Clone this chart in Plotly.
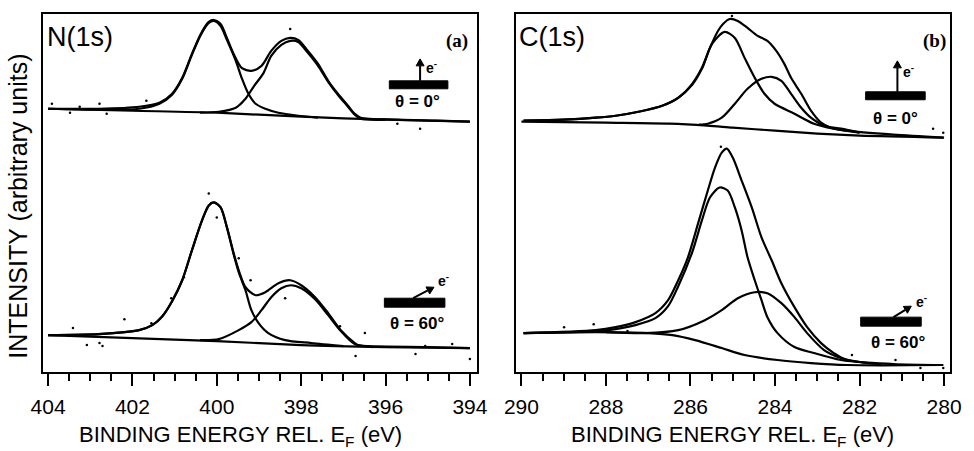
import math
import plotly.graph_objects as go

# ---------------- data (binding energy in eV, intensity in arbitrary units) ----------------
# Panel (a) N(1s), theta = 0 deg
a0_env_E = [404.0, 402.8, 401.84, 401.36, 401.06, 400.82, 400.59, 400.38, 400.19, 400.07, 399.91, 399.76,
            399.60, 399.41, 399.18, 398.94, 398.71, 398.47, 398.26, 398.07, 397.84, 397.60, 397.36, 397.13,
            396.89, 396.73, 396.59, 395.72, 394.78, 394.0]
a0_env_I = [264, 264, 266, 270, 279, 295, 319, 339, 351, 353, 349, 335, 319, 305, 302, 307, 322, 332, 335,
            333, 322, 309, 292, 279, 267, 259, 255, 253, 252, 251]
a0_c1_E = [404.0, 402.8, 401.84, 401.36, 401.06, 400.82, 400.59, 400.38, 400.19, 400.07, 399.91, 399.76,
           399.55, 399.41, 399.25, 399.08, 398.85, 398.54, 398.07, 397.6]
a0_c1_I = [264, 263, 264, 269, 278, 294, 318, 338, 350, 352, 347, 333, 312, 295, 279, 269, 264, 260, 257, 255]
a0_c2_E = [400.4, 399.95, 399.55, 399.32, 399.13, 398.89, 398.71, 398.47, 398.26, 398.07, 397.84, 397.60,
           397.36, 397.13, 396.89, 396.73, 396.59, 396.0]
a0_c2_I = [260, 261, 265, 274, 286, 300, 317, 328, 332, 331, 320, 307, 291, 278, 266, 258, 254, 253]
a0_bg_E = [404.0, 402.0, 400.0, 398.0, 396.0, 394.0]
a0_bg_I = [264, 262, 260, 256, 253, 251]

# Panel (a) N(1s), theta = 60 deg
a60_env_E = [404.0, 402.8, 401.84, 401.53, 401.29, 401.06, 400.82, 400.59, 400.35, 400.19, 400.07, 399.91,
             399.76, 399.60, 399.48, 399.32, 399.08, 398.85, 398.54, 398.26, 398.0, 397.67, 397.36, 397.06,
             396.73, 396.66, 395.0, 394.0]
a60_env_I = [37, 38, 42, 47, 56, 71, 92, 122, 152, 167, 170, 165, 145, 119, 102, 85, 77, 80, 89, 92, 87, 75,
             59, 42, 29, 27, 25, 24]
a60_c1_E = [404.0, 402.8, 401.84, 401.53, 401.29, 401.06, 400.82, 400.59, 400.35, 400.19, 400.07, 399.91,
            399.76, 399.60, 399.48, 399.32, 399.18, 399.01, 398.78, 398.38, 397.76, 397.0]
a60_c1_I = [37, 38, 42, 47, 56, 71, 92, 122, 152, 167, 170, 165, 145, 118, 100, 82, 62, 49, 39, 32, 29, 26]
a60_c2_E = [400.4, 399.95, 399.48, 399.18, 398.94, 398.71, 398.47, 398.24, 398.0, 397.67, 397.36, 397.06,
            396.73, 396.3]
a60_c2_I = [32, 33, 42, 50, 62, 75, 84, 87, 84, 73, 57, 41, 28, 25]
a60_bg_E = [404.0, 402.0, 400.0, 398.0, 396.0, 394.0]
a60_bg_I = [37, 34, 31, 27, 25, 24]

# Panel (b) C(1s), theta = 0 deg
b0_env_E = [289.95, 289.0, 288.24, 287.77, 287.23, 286.67, 286.29, 285.96, 285.73, 285.54, 285.35, 285.23,
            285.07, 284.88, 284.65, 284.41, 284.18, 283.97, 283.78, 283.62, 283.38, 283.15, 282.91, 282.68,
            282.30, 281.2, 280.02]
b0_env_I = [252, 253, 255, 257, 261, 267, 275, 289, 305, 325, 342, 349, 354, 352, 345, 337, 332, 322, 309,
            295, 279, 262, 250, 245, 242, 238, 235]
b0_c1_E = [289.95, 289.0, 288.24, 287.77, 287.23, 286.67, 286.29, 285.96, 285.73, 285.49, 285.19, 284.95,
           284.72, 284.48, 284.25, 284.01, 283.54, 283.08, 282.61, 282.0]
b0_c1_I = [252, 253, 255, 257, 261, 267, 275, 288, 304, 329, 341, 335, 315, 295, 279, 269, 259, 249, 244, 240]
b0_c2_E = [285.8, 285.59, 285.26, 284.95, 284.65, 284.32, 284.08, 283.85, 283.62, 283.38, 283.15, 282.84,
           282.44, 282.0]
b0_c2_I = [248, 249, 255, 269, 284, 294, 296, 292, 279, 265, 255, 247, 244, 240]
b0_bg_E = [290.0, 288.0, 286.5, 285.6, 285.0, 284.0, 283.0, 282.0, 280.0]
b0_bg_I = [251, 250, 249, 247, 245, 242, 239, 237, 235]

# Panel (b) C(1s), theta = 60 deg
b60_env_E = [289.95, 288.24, 287.77, 287.30, 286.83, 286.53, 286.29, 286.06, 285.82, 285.59, 285.42, 285.26,
             285.14, 285.0, 284.79, 284.55, 284.32, 284.08, 283.85, 283.54, 283.24, 282.91, 282.61, 282.30,
             281.2, 280.02]
b60_env_I = [39, 42, 45, 50, 59, 72, 92, 115, 149, 182, 205, 220, 224, 215, 192, 165, 135, 112, 89, 65, 45,
             29, 19, 12, 8, 7]
b60_c1_E = [289.95, 288.24, 287.77, 287.30, 286.83, 286.53, 286.29, 285.96, 285.73, 285.54, 285.31, 285.12,
            284.95, 284.79, 284.65, 284.48, 284.32, 284.18, 283.94, 283.54, 283.08, 282.44, 281.5]
b60_c1_I = [39, 41, 43, 47, 54, 66, 86, 120, 152, 175, 185, 182, 165, 142, 115, 92, 72, 55, 39, 25, 19, 12, 8]
b60_c2_E = [288.0, 287.07, 286.29, 285.66, 285.26, 284.88, 284.48, 284.18, 283.85, 283.54, 283.24, 282.84,
            282.44, 282.0, 281.5]
b60_c2_I = [40, 39, 42, 52, 62, 74, 80, 79, 69, 55, 39, 22, 14, 10, 8]
b60_bg_E = [289.95, 288.24, 287.0, 286.43, 285.89, 285.26, 284.72, 283.94, 283.15, 282.30, 280.02]
b60_bg_I = [39, 40, 39, 37, 32, 24, 17, 12, 9, 7, 7]

# scattered measured points
dotsA_E = [403.91, 403.48, 403.25, 402.78, 402.61, 401.67, 398.26, 395.72, 395.18,
           403.41, 403.08, 402.78, 402.71, 402.19, 401.55, 401.08, 400.78, 400.0, 400.19, 399.48,
           399.2, 398.38, 397.08, 396.49, 396.71, 395.29, 395.06, 394.42, 394.0]
dotsA_I = [269, 260, 266, 269, 259, 272, 344, 249, 244,
           44, 27, 29, 26, 53, 49, 74, 95, 155, 179, 114, 92, 74, 46, 39, 16, 18, 26, 28, 13]
dotsB_E = [285.02, 280.26, 280.02, 285.28, 288.99, 288.29, 287.49, 282.18, 281.15, 280.56, 280.02]
dotsB_I = [357, 244, 240, 226, 45, 48, 41, 17, 12, 4, 4]

# axis ticks
ticksA = [404, 402, 400, 398, 396, 394]
ticksB = [290, 288, 286, 284, 282, 280]

# ---------------- figure ----------------
W, H = 974, 451
ML, MR, MT, MB = 43, 17, 13, 79
PW, PH = W - ML - MR, H - MT - MB


def px(x, y):
    return (x - ML) / PW, (H - MB - y) / PH


FONT = "Liberation Sans, Arial, sans-serif"
fig = go.Figure()

line = dict(color="black", width=2.2, shape="spline", smoothing=0.8)
for E, I in [(a0_bg_E, a0_bg_I), (a0_c1_E, a0_c1_I), (a0_c2_E, a0_c2_I), (a0_env_E, a0_env_I),
             (a60_bg_E, a60_bg_I), (a60_c1_E, a60_c1_I), (a60_c2_E, a60_c2_I), (a60_env_E, a60_env_I)]:
    fig.add_trace(go.Scatter(x=E, y=I, mode="lines", line=line, xaxis="x", yaxis="y", showlegend=False))
for E, I in [(b0_bg_E, b0_bg_I), (b0_c1_E, b0_c1_I), (b0_c2_E, b0_c2_I), (b0_env_E, b0_env_I),
             (b60_bg_E, b60_bg_I), (b60_c1_E, b60_c1_I), (b60_c2_E, b60_c2_I), (b60_env_E, b60_env_I)]:
    fig.add_trace(go.Scatter(x=E, y=I, mode="lines", line=line, xaxis="x2", yaxis="y2", showlegend=False))
fig.add_trace(go.Scatter(x=dotsA_E, y=dotsA_I, mode="markers", marker=dict(color="black", size=2.5),
                         xaxis="x", yaxis="y", showlegend=False))
fig.add_trace(go.Scatter(x=dotsB_E, y=dotsB_I, mode="markers", marker=dict(color="black", size=2.5),
                         xaxis="x2", yaxis="y2", showlegend=False))

xcommon = dict(showline=True, mirror=True, linecolor="black", linewidth=2, showgrid=False, zeroline=False,
               ticks="outside", ticklen=12, tickwidth=2, tickcolor="black",
               tickfont=dict(family=FONT, size=21, color="black"), ticklabelstandoff=3,
               minor=dict(dtick=0.5, ticks="outside", ticklen=7, tickwidth=1.5, tickcolor="black", showgrid=False))
ycommon = dict(showline=True, mirror=True, linecolor="black", linewidth=2, showgrid=False, zeroline=False,
               showticklabels=False, ticks="", range=[0, 359], domain=[0, 1])

dA = (0.0, (480 - ML) / PW)
dB = ((520 - ML) / PW, 1.0)
fig.update_layout(
    width=W, height=H, margin=dict(l=ML, r=MR, t=MT, b=MB),
    paper_bgcolor="white", plot_bgcolor="white",
    xaxis=dict(domain=dA, range=[404.12, 393.84], tickvals=ticksA, ticktext=[str(t) for t in ticksA],
               anchor="y", **xcommon),
    xaxis2=dict(domain=dB, range=[290.12, 279.86], tickvals=ticksB, ticktext=[str(t) for t in ticksB],
                anchor="y2", **xcommon),
    yaxis=dict(anchor="x", **ycommon),
    yaxis2=dict(anchor="x2", **ycommon),
)
fig.layout.xaxis.minor.tick0 = 394
fig.layout.xaxis2.minor.tick0 = 280

ann = []


def text(x, y, s, size, family=FONT, xanchor="center", angle=0, bold=False):
    xp, yp = px(x, y)
    if bold:
        s = "<b>" + s + "</b>"
    ann.append(dict(x=xp, y=yp, xref="paper", yref="paper", text=s, showarrow=False, xanchor=xanchor,
                    yanchor="middle", textangle=angle, font=dict(family=family, size=size, color="black")))


xtitle = "BINDING ENERGY REL. E<sub>F</sub> (eV)"
text(242, 436, xtitle, 22)
text(738, 436, xtitle, 22)
text(18, 206, "INTENSITY (arbitrary units)", 25, angle=-90)
text(45, 36, "N(1s)", 27, xanchor="left")
text(521, 36, "C(1s)", 27, xanchor="left")
text(460, 40, "(a)", 19, family="Liberation Serif, Times New Roman, serif", bold=True)
text(941, 40, "(b)", 19, family="Liberation Serif, Times New Roman, serif", bold=True)

shapes = []


def arrow(x0, y0, x1, y1, head=7, half=4):
    # shaft
    dx, dy = x1 - x0, y1 - y0
    L = math.hypot(dx, dy)
    ux, uy = dx / L, dy / L
    bx, by = x1 - ux * head, y1 - uy * head
    a = px(x0, y0)
    b = px(bx, by)
    shapes.append(dict(type="line", xref="paper", yref="paper", x0=a[0], y0=a[1], x1=b[0], y1=b[1],
                       line=dict(color="black", width=2)))
    # head (triangle)
    nx, ny = -uy, ux
    p1 = px(x1, y1)
    p2 = px(bx + nx * half, by + ny * half)
    p3 = px(bx - nx * half, by - ny * half)
    path = "M {:.5f} {:.5f} L {:.5f} {:.5f} L {:.5f} {:.5f} Z".format(p1[0], p1[1], p2[0], p2[1], p3[0], p3[1])
    shapes.append(dict(type="path", xref="paper", yref="paper", path=path, fillcolor="black",
                       line=dict(color="black", width=1)))


def inset(x0, x1, y0, y1, ax0, ay0, ax1, ay1, ex, ey, tx, ty, label):
    p0 = px(x0, y1)
    p1 = px(x1, y0)
    shapes.append(dict(type="rect", xref="paper", yref="paper", x0=p0[0], y0=p0[1], x1=p1[0], y1=p1[1],
                       fillcolor="black", line=dict(color="black", width=1)))
    arrow(ax0, ay0, ax1, ay1)
    text(ex, ey, "e<sup>-</sup>", 14, bold=True)
    text(tx, ty, label, 17, bold=True)


inset(392, 451, 80, 88, 423, 80, 423, 58, 434, 66, 420, 101, "θ = 0°")
inset(387, 448, 298, 307, 416, 298, 437, 287, 447, 280, 420, 323, "θ = 60°")
inset(872, 932, 91, 99, 904, 91, 904, 60, 915, 70, 902, 118, "θ = 0°")
inset(867, 928, 317, 326, 900, 317, 918, 306, 928, 301, 905, 342, "θ = 60°")

fig.update_layout(annotations=ann, shapes=shapes)
fig.write_html("out.html")
